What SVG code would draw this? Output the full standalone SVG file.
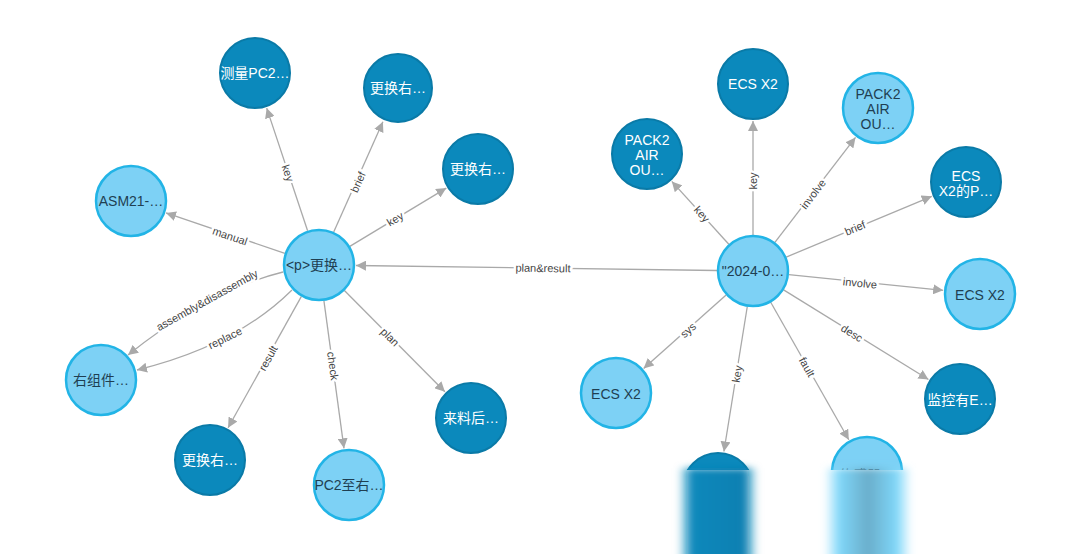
<svg xmlns="http://www.w3.org/2000/svg" width="1080" height="554" viewBox="0 0 1080 554">
<defs>
<marker id="arr" viewBox="0 0 10 10" refX="10" refY="5" markerWidth="10" markerHeight="10" markerUnits="userSpaceOnUse" orient="auto">
<path d="M0,0 L10,5 L0,10 z" fill="#a9a9a9"/>
</marker>
<filter id="blur" x="-50%" y="-20%" width="200%" height="140%"><feGaussianBlur stdDeviation="3.5"/></filter>
<clipPath id="topHalf"><rect x="0" y="0" width="1080" height="470"/></clipPath>
<linearGradient id="smD" x1="0" x2="1" y1="0" y2="0">
<stop offset="0" stop-color="#0a88bb" stop-opacity="0"/>
<stop offset="0.18" stop-color="#0a88bb"/>
<stop offset="0.82" stop-color="#0a80b2"/>
<stop offset="1" stop-color="#0a88bb" stop-opacity="0"/>
</linearGradient>
<linearGradient id="smL" x1="0" x2="1" y1="0" y2="0">
<stop offset="0" stop-color="#8adcfb" stop-opacity="0"/>
<stop offset="0.18" stop-color="#7fd6f8"/>
<stop offset="0.5" stop-color="#6aaecb"/>
<stop offset="0.82" stop-color="#7fd6f8"/>
<stop offset="1" stop-color="#8adcfb" stop-opacity="0"/>
</linearGradient>
</defs>
<style>
.e{stroke:#a9a9a9;stroke-width:1.3;fill:none;marker-end:url(#arr)}
.l{font-family:"Liberation Sans",Arial,sans-serif;font-size:11px;fill:#444;text-anchor:middle;dominant-baseline:central;stroke:#fff;stroke-width:5;paint-order:stroke;stroke-linejoin:round}
.lt circle{fill:#7dd1f5;stroke:#22b4e6;stroke-width:2.5}
.dk circle{fill:#0b89bc;stroke:#0a7aa7;stroke-width:2}
.lt text,.dk text{font-family:"Liberation Sans","Noto Sans CJK SC",Arial,sans-serif;font-size:14px;text-anchor:middle;dominant-baseline:central}
.lt text{fill:#1f3f52}
.dk text{fill:#fff}
</style>
<rect width="1080" height="554" fill="#fff"/>
<g id="edges">
<line class="e" x1="307.6" y1="230.8" x2="266.7" y2="108.1"/>
<line class="e" x1="333.7" y1="232.1" x2="382.9" y2="121.8"/>
<line class="e" x1="349.8" y1="246.4" x2="446.3" y2="188.1"/>
<line class="e" x1="284.9" y1="253.4" x2="166" y2="212.9"/>
<path class="e" d="M283,272 Q208.5,290.5 128,355"/>
<path class="e" d="M292,290 Q235.5,346 137,370"/>
<line class="e" x1="301.4" y1="296.4" x2="228.1" y2="427.7"/>
<line class="e" x1="323.9" y1="300.7" x2="344" y2="448.3"/>
<line class="e" x1="344.4" y1="290.5" x2="444.9" y2="391.8"/>
<line class="e" x1="717" y1="270.5" x2="356" y2="265.5"/>
<line class="e" x1="728.8" y1="244.3" x2="671.8" y2="181.4"/>
<line class="e" x1="753" y1="235" x2="753" y2="121"/>
<line class="e" x1="774.9" y1="242.4" x2="855.5" y2="137.4"/>
<line class="e" x1="786.2" y1="257.1" x2="931.8" y2="196.3"/>
<line class="e" x1="788.8" y1="274.6" x2="943.2" y2="290.3"/>
<line class="e" x1="783.6" y1="289.9" x2="928.5" y2="379.5"/>
<line class="e" x1="726.1" y1="294.9" x2="643.6" y2="368.4"/>
<line class="e" x1="747.3" y1="306.5" x2="723.9" y2="451.5"/>
<line class="e" x1="770.7" y1="302.3" x2="848.8" y2="439.8"/>
<text class="l" transform="translate(288,173) rotate(71.6)">key</text>
<text class="l" transform="translate(358,182) rotate(-66)">brief</text>
<text class="l" transform="translate(395,219) rotate(-31)">key</text>
<text class="l" transform="translate(230,236) rotate(18.8)">manual</text>
<text class="l" transform="translate(207,300) rotate(-29)">assembly&amp;disassembly</text>
<text class="l" transform="translate(225,338) rotate(-26)">replace</text>
<text class="l" transform="translate(268,358) rotate(-60.8)">result</text>
<text class="l" transform="translate(333,366) rotate(82)">check</text>
<text class="l" transform="translate(390,337) rotate(45)">plan</text>
<text class="l" transform="translate(543,268) rotate(0.8)">plan&amp;result</text>
<text class="l" transform="translate(702,214) rotate(47.6)">key</text>
<text class="l" transform="translate(753,181) rotate(-90)">key</text>
<text class="l" transform="translate(813,194) rotate(-52.5)">involve</text>
<text class="l" transform="translate(855,228) rotate(-22.7)">brief</text>
<text class="l" transform="translate(860,283) rotate(5.8)">involve</text>
<text class="l" transform="translate(852,333) rotate(31.7)">desc</text>
<text class="l" transform="translate(688,330) rotate(-41.7)">sys</text>
<text class="l" transform="translate(737,374) rotate(-80.8)">key</text>
<text class="l" transform="translate(807,367) rotate(60.4)">fault</text>
</g>
<g id="n-left-center" class="lt"><circle cx="319" cy="265" r="35"/><text x="319" y="265">&lt;p&gt;更换…</text></g>
<g id="n-measure" class="dk"><circle cx="255" cy="73" r="35"/><text x="255" y="73">测量PC2…</text></g>
<g id="n-replace-top" class="dk"><circle cx="398" cy="88" r="34"/><text x="398" y="88">更换右…</text></g>
<g id="n-replace-right" class="dk"><circle cx="478" cy="169" r="35"/><text x="478" y="169">更换右…</text></g>
<g id="n-asm" class="lt"><circle cx="131" cy="201" r="35"/><text x="131" y="201">ASM21-…</text></g>
<g id="n-right-comp" class="lt"><circle cx="101" cy="380" r="35"/><text x="101" y="380">右组件…</text></g>
<g id="n-replace-bottom" class="dk"><circle cx="210" cy="460" r="35"/><text x="210" y="460">更换右…</text></g>
<g id="n-pc2" class="lt"><circle cx="349" cy="485" r="35"/><text x="349" y="485">PC2至右…</text></g>
<g id="n-material" class="dk"><circle cx="471" cy="418" r="35"/><text x="471" y="418">来料后…</text></g>
<g id="n-right-center" class="lt"><circle cx="753" cy="271" r="35"/><text x="753" y="271">"2024-0…</text></g>
<g id="n-pack2-dark" class="dk"><circle cx="647" cy="154" r="35"/><text x="647" y="140">PACK2</text><text x="647" y="155">AIR</text><text x="647" y="170">OU…</text></g>
<g id="n-ecs-top" class="dk"><circle cx="753" cy="84" r="35"/><text x="753" y="84">ECS X2</text></g>
<g id="n-pack2-light" class="lt"><circle cx="878" cy="108" r="35"/><text x="878" y="94">PACK2</text><text x="878" y="109">AIR</text><text x="878" y="124">OU…</text></g>
<g id="n-ecs-p" class="dk"><circle cx="966" cy="182" r="35"/><text x="966" y="176">ECS</text><text x="966" y="191">X2的P…</text></g>
<g id="n-ecs-light" class="lt"><circle cx="980" cy="294" r="35"/><text x="980" y="295">ECS X2</text></g>
<g id="n-monitor" class="dk"><circle cx="960" cy="399" r="35"/><text x="960" y="400">监控有E…</text></g>
<g id="n-ecs-sys" class="lt"><circle cx="616" cy="393" r="35"/><text x="616" y="394">ECS X2</text></g>
<g id="n-key-bottom" class="dk"><circle cx="718" cy="488" r="35" clip-path="url(#topHalf)"/><rect x="678" y="468" width="80" height="100" fill="url(#smD)" filter="url(#blur)"/></g>
<g id="n-fault" class="lt"><circle cx="867" cy="472" r="35" clip-path="url(#topHalf)"/><text x="867" y="475" clip-path="url(#topHalf)">传感器…</text><rect x="824" y="468" width="88" height="100" fill="url(#smL)" filter="url(#blur)"/></g>
</svg>
